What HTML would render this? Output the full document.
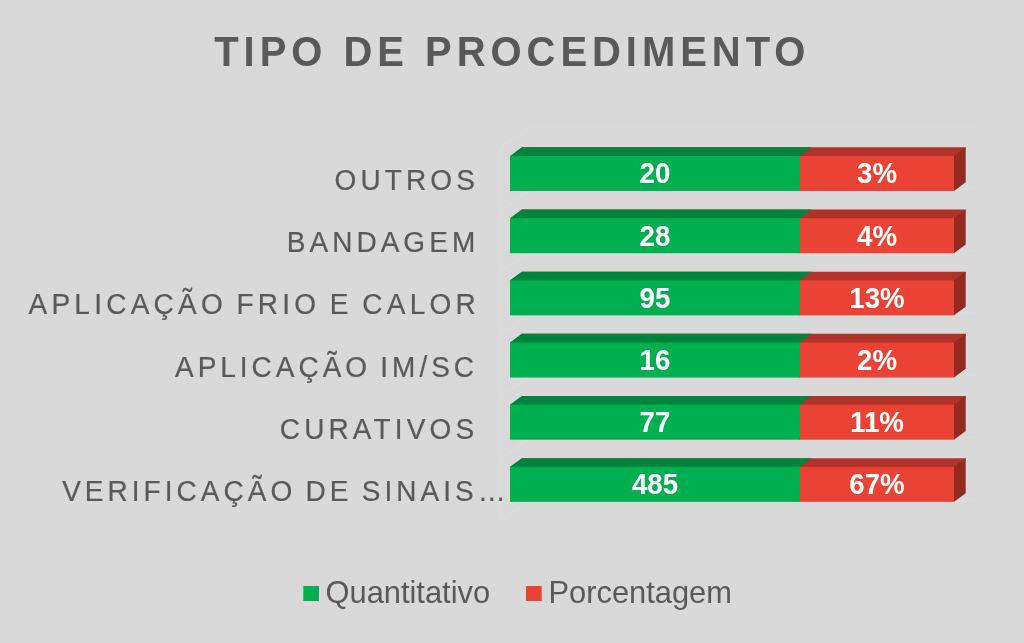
<!DOCTYPE html>
<html lang="pt-BR">
<head>
<meta charset="utf-8">
<title>Tipo de Procedimento</title>
<style>
html,body{margin:0;padding:0;background:#D9D9D9;}
body{width:1024px;height:643px;overflow:hidden;}
svg{display:block;will-change:transform;}
text{font-family:"Liberation Sans",Arial,sans-serif;}
.title{font-weight:bold;font-size:40px;letter-spacing:4.96px;fill:#595959;}
.cat{font-size:28px;letter-spacing:4.2px;fill:#595959;stroke:#595959;stroke-width:.2px;}
.val{font-weight:bold;font-size:28px;fill:#fff;}
.leg{font-size:30.85px;fill:#595959;}
</style>
</head>
<body>
<svg width="1024" height="643" viewBox="0 0 1024 643">
<rect width="1024" height="643" fill="#D9D9D9"/>
<g fill="none" stroke="#DCDCDC" stroke-width="1.6">
<path d="M500.5 148V520.96"/>
<path d="M500.5 148L530.8 126.5H975.5"/>
<path d="M500.5 210.16L530.8 188.66H975.5"/>
<path d="M500.5 272.32L530.8 250.82H975.5"/>
<path d="M500.5 334.48L530.8 312.98H975.5"/>
<path d="M500.5 396.64L530.8 375.14H975.5"/>
<path d="M500.5 458.8L530.8 437.3H975.5"/>
<path d="M500.5 520.96L530.8 499.46H975.5"/>
</g>
<text class="title" transform="translate(512.33,66) scale(1,1.065)" text-anchor="middle">TIPO DE PROCEDIMENTO</text>
<g>
<polygon fill="#B03228" points="521.7,157.05 521.7,147.35 965.7,147.35 965.7,149.35 954,158.05"/>
<polygon fill="#00843C" points="510,157.05 510,156.05 521.7,147.35 811.7,147.35 800,156.05 800,157.05"/>
<polygon fill="#942922" points="953,157.05 954,156.05 965.7,147.35 965.7,182.35 954,191.05 953,190.05"/>
<rect fill="#EA4335" x="799" y="156.05" width="155" height="35"/>
<rect fill="#00B050" x="510" y="156.05" width="290" height="35"/>
<text class="val" transform="translate(655,183.38) scale(0.99,1.06)" text-anchor="middle">20</text>
<text class="val" transform="translate(877,183.38) scale(0.99,1.06)" text-anchor="middle">3%</text>
<text class="cat" style="letter-spacing:4.14px;word-spacing:-2.5px" transform="translate(479.04,190.1) scale(1,1.07)" text-anchor="end">OUTROS</text>
</g>
<g>
<polygon fill="#B03228" points="521.7,219.21 521.7,209.51 965.7,209.51 965.7,211.51 954,220.21"/>
<polygon fill="#00843C" points="510,219.21 510,218.21 521.7,209.51 811.7,209.51 800,218.21 800,219.21"/>
<polygon fill="#942922" points="953,219.21 954,218.21 965.7,209.51 965.7,244.51 954,253.21 953,252.21"/>
<rect fill="#EA4335" x="799" y="218.21" width="155" height="35"/>
<rect fill="#00B050" x="510" y="218.21" width="290" height="35"/>
<text class="val" transform="translate(655,245.54) scale(0.99,1.06)" text-anchor="middle">28</text>
<text class="val" transform="translate(877,245.54) scale(0.99,1.06)" text-anchor="middle">4%</text>
<text class="cat" style="letter-spacing:4.044px;word-spacing:-2.5px" transform="translate(479.24,252.24) scale(1,1.07)" text-anchor="end">BANDAGEM</text>
</g>
<g>
<polygon fill="#B03228" points="521.7,281.37 521.7,271.67 965.7,271.67 965.7,273.67 954,282.37"/>
<polygon fill="#00843C" points="510,281.37 510,280.37 521.7,271.67 811.7,271.67 800,280.37 800,281.37"/>
<polygon fill="#942922" points="953,281.37 954,280.37 965.7,271.67 965.7,306.67 954,315.37 953,314.37"/>
<rect fill="#EA4335" x="799" y="280.37" width="155" height="35"/>
<rect fill="#00B050" x="510" y="280.37" width="290" height="35"/>
<text class="val" transform="translate(655,307.7) scale(0.99,1.06)" text-anchor="middle">95</text>
<text class="val" transform="translate(877,307.7) scale(0.99,1.06)" text-anchor="middle">13%</text>
<text class="cat" style="letter-spacing:4.249px;word-spacing:-2.5px" transform="translate(479.99,314.38) scale(1,1.07)" text-anchor="end">APLICAÇÃO FRIO E CALOR</text>
</g>
<g>
<polygon fill="#B03228" points="521.7,343.53 521.7,333.83 965.7,333.83 965.7,335.83 954,344.53"/>
<polygon fill="#00843C" points="510,343.53 510,342.53 521.7,333.83 811.7,333.83 800,342.53 800,343.53"/>
<polygon fill="#942922" points="953,343.53 954,342.53 965.7,333.83 965.7,368.83 954,377.53 953,376.53"/>
<rect fill="#EA4335" x="799" y="342.53" width="155" height="35"/>
<rect fill="#00B050" x="510" y="342.53" width="290" height="35"/>
<text class="val" transform="translate(655,369.86) scale(0.99,1.06)" text-anchor="middle">16</text>
<text class="val" transform="translate(877,369.86) scale(0.99,1.06)" text-anchor="middle">2%</text>
<text class="cat" style="letter-spacing:3.985px;word-spacing:-2.5px" transform="translate(478,376.52) scale(1,1.07)" text-anchor="end">APLICAÇÃO IM/SC</text>
</g>
<g>
<polygon fill="#B03228" points="521.7,405.69 521.7,395.99 965.7,395.99 965.7,397.99 954,406.69"/>
<polygon fill="#00843C" points="510,405.69 510,404.69 521.7,395.99 811.7,395.99 800,404.69 800,405.69"/>
<polygon fill="#942922" points="953,405.69 954,404.69 965.7,395.99 965.7,430.99 954,439.69 953,438.69"/>
<rect fill="#EA4335" x="799" y="404.69" width="155" height="35"/>
<rect fill="#00B050" x="510" y="404.69" width="290" height="35"/>
<text class="val" transform="translate(655,432.02) scale(0.99,1.06)" text-anchor="middle">77</text>
<text class="val" transform="translate(877,432.02) scale(0.99,1.06)" text-anchor="middle">11%</text>
<text class="cat" style="letter-spacing:4.152px;word-spacing:-2.5px" transform="translate(478.35,438.66) scale(1,1.07)" text-anchor="end">CURATIVOS</text>
</g>
<g>
<polygon fill="#B03228" points="521.7,467.85 521.7,458.15 965.7,458.15 965.7,460.15 954,468.85"/>
<polygon fill="#00843C" points="510,467.85 510,466.85 521.7,458.15 811.7,458.15 800,466.85 800,467.85"/>
<polygon fill="#942922" points="953,467.85 954,466.85 965.7,458.15 965.7,493.15 954,501.85 953,500.85"/>
<rect fill="#EA4335" x="799" y="466.85" width="155" height="35"/>
<rect fill="#00B050" x="510" y="466.85" width="290" height="35"/>
<text class="val" transform="translate(655,494.18) scale(0.99,1.06)" text-anchor="middle">485</text>
<text class="val" transform="translate(877,494.18) scale(0.99,1.06)" text-anchor="middle">67%</text>
<text class="cat" style="letter-spacing:4.034px;word-spacing:-2.5px" transform="translate(509.83,500.8) scale(1,1.07)" text-anchor="end">VERIFICAÇÃO DE SINAIS…</text>
</g>
<rect fill="#00B050" x="303.3" y="586" width="15.7" height="15"/>
<text class="leg" x="325.5" y="602.9">Quantitativo</text>
<rect fill="#EA4335" x="526" y="586" width="15.7" height="15"/>
<text class="leg" x="548.5" y="602.9">Porcentagem</text>
</svg>
</body>
</html>
